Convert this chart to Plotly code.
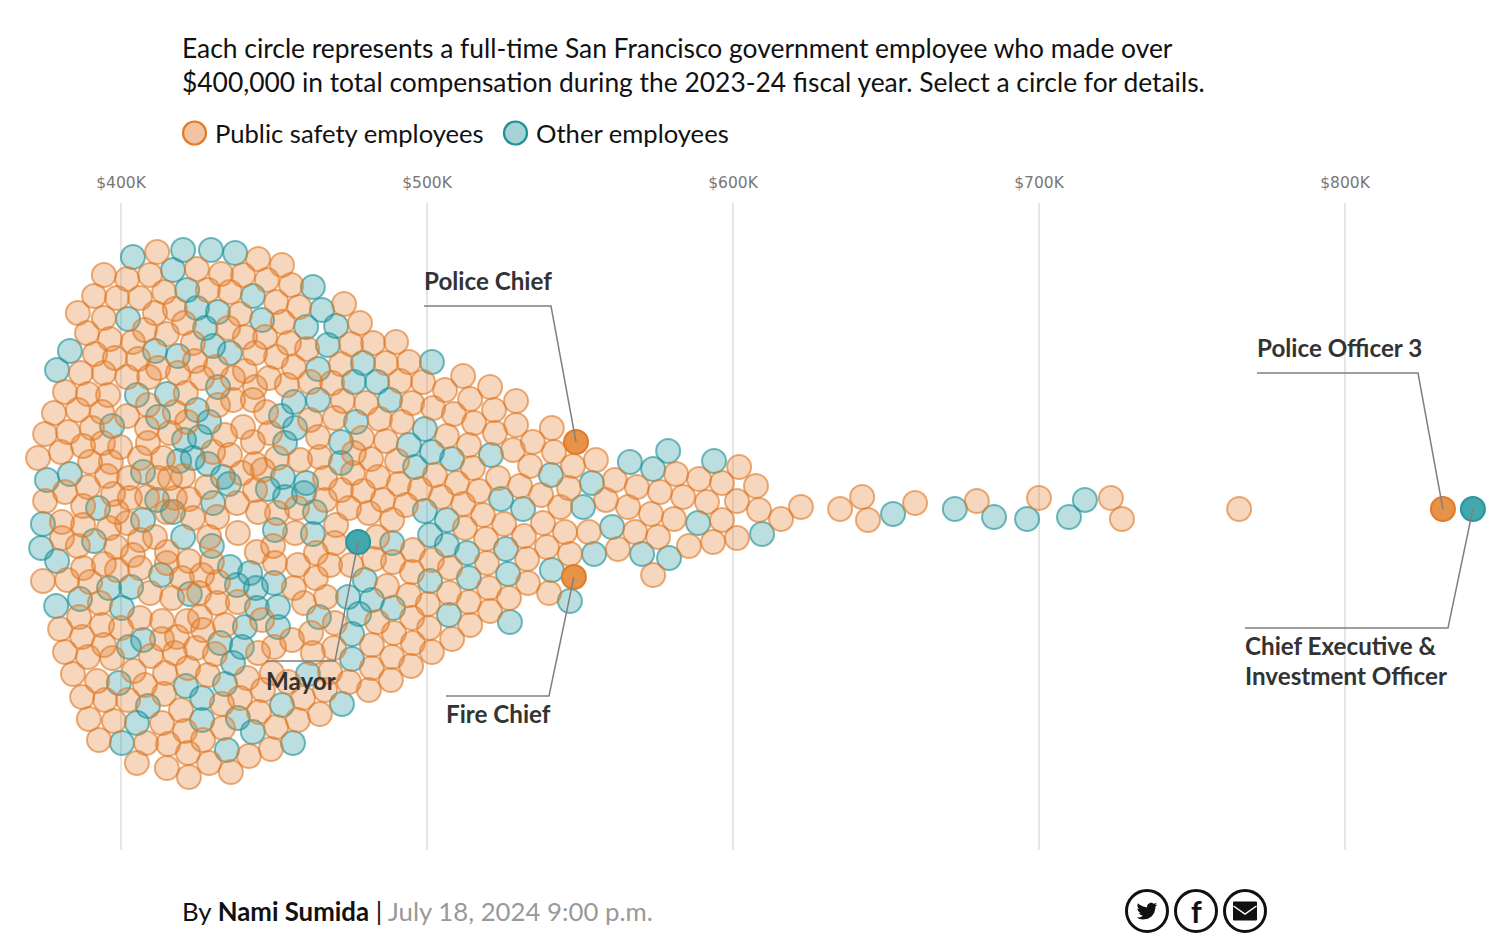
import plotly.graph_objects as go

# Total compensation in $ thousands and vertical swarm offset
public_pay = [411.8,424.8,432.7,394.4,402.0,409.5,414.1,428.4,435.6,391.2,398.7,406.2,417.6,385.9,394.4,411.1,420.6,435.0,388.9,396.4,407.8,415.0,423.5,391.5,403.9,398.0,405.6,424.2,431.0,386.9,394.4,402.0,409.2,418.6,426.5,412.1,
444.8,452.6,439.9,447.7,455.6,450.7,458.2,472.9,438.9,452.9,478.1,440.5,447.1,454.9,460.8,475.2,482.4,489.9,443.8,450.7,456.5,471.9,486.6,494.1,440.5,448.4,436.6,443.8,454.2,469.0,491.2,498.7,461.8,
381.7,389.2,395.8,408.8,421.2,431.7,417.6,378.1,385.9,393.8,402.0,421.6,375.2,382.7,390.5,408.5,416.0,434.0,387.6,394.1,399.7,408.8,372.9,380.4,389.9,396.7,406.2,413.7,430.1,435.6,389.2,395.4,402.6,412.1,416.0,420.3,428.1,375.2,381.7,387.6,397.4,402.9,408.5,415.0,417.6,422.2,398.7,423.5,431.4,
380.7,387.6,396.1,402.0,406.2,411.1,428.8,380.7,385.9,398.4,403.9,415.0,422.2,429.7,387.6,394.4,398.7,406.2,415.0,419.9,426.5,374.5,382.4,431.7,389.9,409.5,416.7,425.5,431.4,393.1,386.3,406.2,413.4,421.6,425.8,434.0,380.1,393.8,400.0,387.3,413.4,418.3,426.8,394.4,381.7,424.5,417.6,430.7,389.2,409.8,397.1,
384.3,392.2,404.2,414.4,421.9,428.4,441.2,387.3,394.8,402.3,407.8,414.1,438.9,446.4,449.3,454.6,468.3,466.7,474.5,419.6,433.0,459.5,389.5,397.7,413.4,445.1,465.0,457.8,420.9,433.3,450.7,392.8,408.2,415.4,426.8,449.0,421.9,441.8,405.2,415.0,428.8,435.9,422.2,481.0,488.2,482.0,494.8,
436.6,443.1,472.5,480.1,495.1,502.0,461.8,469.9,484.6,491.8,439.9,447.4,443.1,448.7,464.4,478.8,486.6,451.0,458.5,465.0,476.1,481.7,490.2,443.8,439.5,446.4,466.7,475.8,484.0,490.8,497.7,443.8,471.9,479.1,485.6,493.1,466.7,437.9,444.8,451.0,457.5,474.5,481.0,488.6,
438.2,444.4,449.7,456.9,470.3,483.7,495.4,469.9,457.8,463.7,468.3,475.2,482.7,488.9,495.1,450.3,463.7,456.5,486.9,494.1,467.0,459.8,500.3,438.2,483.7,495.1,500.7,469.9,446.1,462.1,455.9,489.2,495.4,450.0,482.0,501.6,462.7,469.6,444.8,488.6,
511.8,505.9,520.6,514.1,529.1,508.8,521.9,515.4,529.1,540.8,522.2,506.5,513.7,534.6,528.1,541.5,555.2,547.7,533.7,515.0,502.6,523.2,509.8,546.4,517.0,530.4,537.3,504.6,511.8,558.5,543.5,565.7,
512.4,518.3,525.2,537.9,545.1,552.9,531.7,519.3,539.2,546.7,562.4,532.7,519.6,501.6,507.5,533.0,520.3,539.9,507.2,526.8,513.7,520.6,514.1,508.2,
602.0,581.4,561.4,588.9,568.6,596.4,576.1,607.5,583.7,591.5,601.3,608.5,622.2,573.2,580.7,596.4,615.7,568.0,575.5,593.5,585.6,601.3,573.9,635.0,642.2,644.1,659.5,679.7,700.0,723.5,727.1,765.4]
public_offset = [257,240,235,234,230,234,217,219,217,213,211,211,200,196,191,196,186,181,176,170,179,175,166,155,167,151,150,148,142,136,136,132,132,136,131,141,
250,244,234,229,224,207,202,205,195,187,186,172,172,166,160,165,166,167,156,152,142,145,146,147,138,131,131,122,124,126,128,127,127,
117,115,114,104,116,104,97,96,99,97,93,87,75,77,81,81,76,74,63,66,62,66,51,57,47,47,51,51,57,54,22,33,31,31,31,33,22,8,17,3,15,11,12,-3,11,10,-3,-9,-8,
-13,-16,-19,-14,-31,-28,-28,-29,-37,-38,-46,-43,-52,-53,-59,-55,-61,-59,-54,-69,-66,-72,-71,-73,-73,-84,-89,-84,-94,-94,-108,-109,-112,-112,-108,-116,-120,-116,-119,-128,-130,-128,-121,-136,-143,-139,-144,-145,-148,-147,-149,
-165,-172,-162,-164,-159,-166,-169,-188,-191,-191,-176,-185,-189,-181,-164,-173,-163,-181,-173,-201,-195,-189,-210,-212,-214,-203,-205,-211,-222,-219,-218,-231,-234,-235,-231,-240,-244,-247,-254,-259,-254,-263,-268,-181,-171,-159,-157,
109,109,108,106,106,101,89,91,90,87,82,97,67,76,72,71,68,51,49,52,56,50,48,45,36,39,31,36,32,25,20,19,19,18,9,4,9,6,-3,-4,1,1,-4,-11,
-24,-43,-37,-24,-16,-28,-41,-34,-56,-44,-56,-56,-50,-53,-63,-54,-69,-79,-77,-86,-88,-94,-95,-93,-113,-109,-119,-114,-111,-124,-131,-124,-134,-138,-136,-143,-144,-139,-144,-148,
133,119,122,110,108,95,99,86,84,81,76,73,64,67,59,57,49,43,43,41,34,31,26,21,18,23,14,12,5,9,2,2,
-19,-6,-15,-14,-23,-23,-27,-30,-38,-45,-40,-50,-54,-51,-59,-74,-79,-84,-84,-89,-93,-102,-116,-130,
42,35,29,30,22,26,17,23,12,7,8,-1,2,-5,-10,-11,-10,-23,-28,-33,-37,-29,-66,0,12,-11,6,8,11,11,-10,0]

other_pay = [403.9,420.3,429.4,437.3,417.0,421.6,424.8,431.7,402.3,427.5,430.1,435.6,383.3,411.1,418.6,379.1,405.2,415.0,431.7,424.8,412.1,428.8,397.1,420.6,425.8,419.0,423.5,428.4,375.8,383.3,407.2,433.3,411.8,430.1,392.5,407.2,417.0,
374.5,391.2,420.3,429.7,373.9,379.1,435.6,413.1,396.1,403.3,386.6,422.5,378.8,400.3,407.2,432.4,402.6,399.3,421.2,434.0,436.6,461.1,472.2,426.5,408.8,452.6,405.2,426.5,438.2,443.1,400.3,456.2,434.6,
462.7,443.1,465.7,446.1,460.5,470.3,467.6,464.4,479.1,501.6,476.1,483.7,456.5,464.4,487.9,452.3,456.9,476.8,453.6,471.9,494.1,499.3,501.6,508.2,520.9,471.9,496.1,452.9,460.5,448.0,453.6,459.8,435.3,463.4,499.3,
540.5,553.9,524.2,531.4,551.0,506.5,501.0,506.5,513.1,525.8,554.6,560.5,513.7,501.0,526.5,540.8,507.2,546.7,527.1,
450.3,462.7,488.6,442.2,450.0,437.9,444.1,479.7,474.2,482.0,488.9,451.3,444.4,464.7,477.8,440.5,451.3,475.5,475.5,439.5,
566.3,578.8,573.9,593.8,588.6,609.5,570.3,579.1,652.3,672.5,685.3,696.1,709.8,715.0]
other_offset = [252,259,259,256,239,219,201,197,190,181,163,156,158,158,153,139,114,115,122,99,92,87,83,69,72,48,51,45,29,35,37,32,9,6,1,-11,-3,
-15,-32,-28,-37,-39,-52,-58,-66,-79,-78,-90,-85,-97,-99,-131,-134,-138,-174,-177,-175,-154,-165,-195,-189,-197,-196,-214,-211,-209,-223,-234,-234,-241,
222,213,199,189,182,183,164,140,146,147,127,127,107,109,109,93,81,87,66,67,64,80,57,50,54,46,42,32,26,20,12,16,25,-3,-2,
34,26,10,0,2,-11,-26,-36,-44,-40,-45,-18,-69,-72,-65,-61,-106,-92,-113,
-21,-25,-34,-64,-74,-76,-79,-71,-88,-91,-99,-98,-99,-108,-105,-118,-118,-125,-150,-138,
47,58,40,48,-14,-25,-45,-49,-5,0,-8,-10,-8,9]

highlight_public_names = ["Police Chief", "Fire Chief", "Police Officer 3"]
highlight_public_pay = [548.7, 548.0, 832.0]
highlight_public_offset = [67, -68, 0]
highlight_other_names = ["Mayor", "Chief Executive & Investment Officer"]
highlight_other_pay = [477.5, 841.8]
highlight_other_offset = [-33, 0]

tick_vals = [400, 500, 600, 700, 800]
tick_text = ["$400K", "$500K", "$600K", "$700K", "$800K"]

W, H = 1505, 944
PLOT_TOP, PLOT_BOTTOM = 203, 850
PX_PER_K = 3.06
X0 = 121      # pixel of $400K
Y0 = 509      # pixel of swarm centre

x_range = [400 - X0 / PX_PER_K, 400 + (W - X0) / PX_PER_K]
y_range = [Y0 - PLOT_BOTTOM, Y0 - PLOT_TOP]

def to_x(px): return 400 + (px - X0) / PX_PER_K
def to_y(py): return Y0 - py
def pap_x(px): return px / W
def pap_y(py): return (PLOT_BOTTOM - py) / (PLOT_BOTTOM - PLOT_TOP)

ORANGE = "224,123,41"
TEAL = "31,146,152"
FONT = "Lato, sans-serif"

fig = go.Figure()

def dots(xs, ys, rgb, name):
    fig.add_trace(go.Scatter(
        x=xs, y=ys, mode="markers", showlegend=False, cliponaxis=False, name=name,
        marker=dict(size=24, color=f"rgba({rgb},0.30)",
                    line=dict(width=2, color=f"rgba({rgb},0.62)"))))

dots(other_pay, other_offset, TEAL, "Other employees")
dots(public_pay, public_offset, ORANGE, "Public safety employees")

def strong(xs, ys, fill, line, names):
    fig.add_trace(go.Scatter(
        x=xs, y=ys, mode="markers", showlegend=False, cliponaxis=False,
        text=names, hoverinfo="text",
        marker=dict(size=24, color=fill, line=dict(width=2, color=line))))

strong(highlight_public_pay, highlight_public_offset, "#e69247", "#e07b29", highlight_public_names)
strong(highlight_other_pay, highlight_other_offset, "#43a7ad", "#26979d", highlight_other_names)

shapes = []
def leader(px1, px2, py, pay, off):
    shapes.append(dict(type="path", xref="x", yref="y", layer="above",
                       path=f"M{to_x(px1)},{to_y(py)} L{to_x(px2)},{to_y(py)} L{pay},{off}",
                       line=dict(color="#808080", width=1.5)))

leader(424, 551, 306, highlight_public_pay[0], highlight_public_offset[0])
leader(446, 549, 696, highlight_public_pay[1], highlight_public_offset[1])
leader(1257, 1418, 373, highlight_public_pay[2], highlight_public_offset[2])
leader(266, 335, 661, highlight_other_pay[0], highlight_other_offset[0])
leader(1245, 1448, 628, highlight_other_pay[1], highlight_other_offset[1])

annotations = []
def label(px, py, text, size, color="#222", anchor="left"):
    annotations.append(dict(xref="paper", yref="paper", x=pap_x(px), y=pap_y(py), text=text,
                            showarrow=False, xanchor=anchor, yanchor="middle", align="left",
                            xshift=-2 if anchor == "left" else 0, yshift=1,
                            font=dict(family=FONT, size=size, color=color)))

label(182, 49, "Each circle represents a full-time San Francisco government employee who made over", 26.4, "#111")
label(182, 83, "$400,000 in total compensation during the 2023-24 fiscal year. Select a circle for details.", 26.4, "#111")

# legend
legend_items = [("Public safety employees", 194.5, 215, "#f3c4a1", "#e07b29"),
                ("Other employees", 515.5, 536, "#a5d3d6", "#1f9298")]
for name, cx, tx, fill, line in legend_items:
    shapes.append(dict(type="circle", xref="paper", yref="paper",
                       x0=pap_x(cx - 11.5), x1=pap_x(cx + 11.5),
                       y0=pap_y(133 + 11.5), y1=pap_y(133 - 11.5),
                       fillcolor=fill, line=dict(color=line, width=2.2)))
    label(tx, 134, name, 25.6, "#111")

label(424, 281, "<b>Police Chief</b>", 24.2, "#333")
label(1257, 348, "<b>Police Officer 3</b>", 24.2, "#333")
label(1245, 646, "<b>Chief Executive &amp;</b>", 24.2, "#333")
label(1245, 676, "<b>Investment Officer</b>", 24.2, "#333")
label(266, 681, "<b>Mayor</b>", 24.2, "#333")
label(446, 714, "<b>Fire Chief</b>", 24.2, "#333")
label(182, 912, "By <b>Nami Sumida</b> | <span style='color:#999'>July 18, 2024 9:00 p.m.</span>", 25.8, "#111")

# share buttons
ICON_Y = 911
ICON_X = [1147, 1196, 1245]
for cx in ICON_X:
    shapes.append(dict(type="circle", xref="paper", yref="paper",
                       x0=pap_x(cx - 20.5), x1=pap_x(cx + 20.5),
                       y0=pap_y(ICON_Y + 20.5), y1=pap_y(ICON_Y - 20.5),
                       line=dict(color="#111", width=3), fillcolor="white"))

bird = [(24,4.6),(21.1,5.35),(23.3,2.6),(20.15,3.8),(16.6,2.3),(13.2,3.9),(11.9,6.6),(12,7.9),(7.7,6.9),(4,5.1),(1.64,3.16),(1,5.6),(1.5,8),(3.16,9.73),(0.93,9.12),(0.93,9.2),(2,12.2),(4.9,13.95),(2.66,14.03),(4.3,16.4),(7.26,17.45),(4.5,19),(1.16,19.55),(0,19.5),(3.5,21.1),(7.55,21.7),(13,20.8),(17.5,18),(20.3,14),(21.5,9.5),(21.55,7.1)]
s = 21 / 24
path = "M" + " L".join(f"{pap_x(ICON_X[0] + (a - 12) * s)},{pap_y(ICON_Y + (b - 12) * s)}" for a, b in bird) + " Z"
shapes.append(dict(type="path", xref="paper", yref="paper", path=path, fillcolor="#111", line=dict(width=0)))
label(ICON_X[1], ICON_Y + 1, "<b>f</b>", 30, "#111", "center")

ex = ICON_X[2]
shapes.append(dict(type="rect", xref="paper", yref="paper",
                   x0=pap_x(ex - 11.5), x1=pap_x(ex + 11.5), y0=pap_y(ICON_Y + 9), y1=pap_y(ICON_Y - 9),
                   fillcolor="#111", line=dict(color="#111", width=1)))
shapes.append(dict(type="path", xref="paper", yref="paper",
                   path=f"M{pap_x(ex-11.5)},{pap_y(ICON_Y-5)} L{pap_x(ex)},{pap_y(ICON_Y+3)} L{pap_x(ex+11.5)},{pap_y(ICON_Y-5)}",
                   line=dict(color="white", width=1.5)))

fig.update_layout(
    width=W, height=H, margin=dict(l=0, r=0, t=PLOT_TOP, b=H - PLOT_BOTTOM, pad=0),
    paper_bgcolor="white", plot_bgcolor="white", font=dict(family=FONT),
    shapes=shapes, annotations=annotations, hovermode="closest", showlegend=False,
    xaxis=dict(range=x_range, tickvals=tick_vals, ticktext=tick_text, side="top",
               showgrid=True, gridcolor="#e6e6e6", gridwidth=2, zeroline=False, showline=False,
               ticks="outside", ticklen=8, tickcolor="rgba(0,0,0,0)",
               tickfont=dict(family="DejaVu Sans, sans-serif", size=15.5, color="#777")),
    yaxis=dict(range=y_range, visible=False, showgrid=False, zeroline=False),
)

fig.write_html("out.html", config=dict(displayModeBar=False),
               post_script="document.body.style.margin='0';document.body.style.overflow='hidden';")
